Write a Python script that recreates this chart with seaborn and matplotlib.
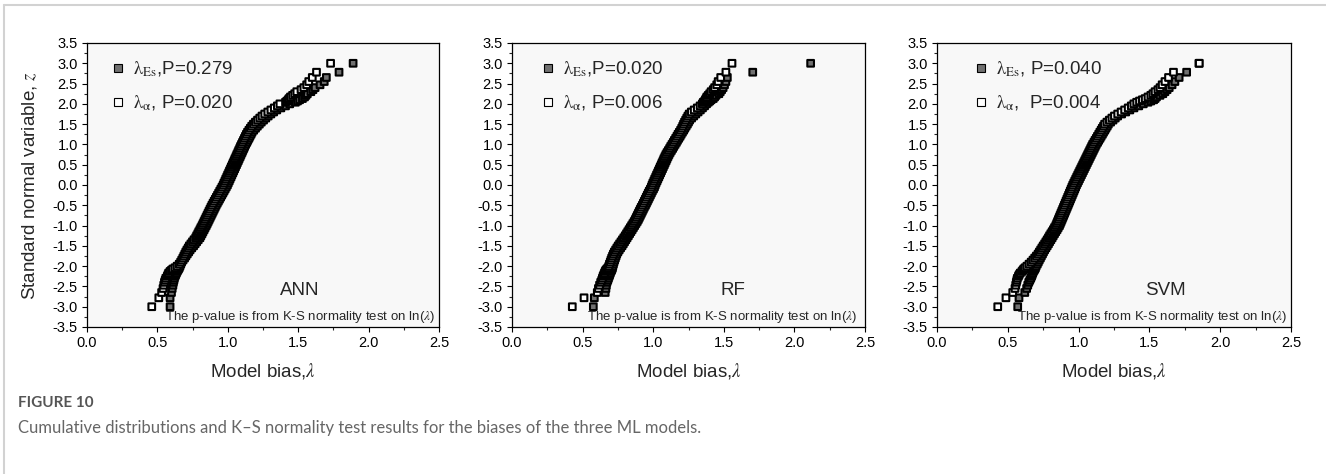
import numpy as np
import pandas as pd
import matplotlib
matplotlib.use("Agg")
import matplotlib.pyplot as plt
from matplotlib.lines import Line2D
from matplotlib.ticker import MultipleLocator, FormatStrFormatter
import seaborn as sns

# ---------------- data ----------------
# standard normal variable z (plotting positions), shared by all series
Z = [-3.00, -2.78, -2.65, -2.55, -2.47, -2.40, -2.35, -2.30, -2.25, -2.21, -2.17, -2.13, -2.10, -2.07, -2.04,
     -2.00, -1.95, -1.90, -1.85, -1.80, -1.75, -1.70, -1.65, -1.60, -1.55,
     -1.50, -1.45, -1.40, -1.35, -1.30, -1.25, -1.20, -1.15, -1.10, -1.05,
     -1.00, -0.95, -0.90, -0.85, -0.80, -0.75, -0.70, -0.65, -0.60, -0.55,
     -0.50, -0.45, -0.40, -0.35, -0.30, -0.25, -0.20, -0.15, -0.10, -0.05,
     0.00, 0.05, 0.10, 0.15, 0.20, 0.25, 0.30, 0.35, 0.40, 0.45,
     0.50, 0.55, 0.60, 0.65, 0.70, 0.75, 0.80, 0.85, 0.90, 0.95,
     1.00, 1.05, 1.10, 1.15, 1.20, 1.25, 1.30, 1.35, 1.40, 1.45,
     1.50, 1.55, 1.60, 1.65, 1.70, 1.75, 1.80, 1.85, 1.90, 1.95, 2.00,
     2.04, 2.07, 2.10, 2.13, 2.17, 2.21, 2.25, 2.30, 2.35, 2.40, 2.47, 2.55, 2.65, 2.78, 3.00]

ANN_ES = [0.59, 0.59, 0.60, 0.605, 0.61, 0.613, 0.617, 0.62, 0.625, 0.63, 0.635, 0.64, 0.645, 0.65, 0.655,
          0.660, 0.666, 0.672, 0.682, 0.693, 0.702, 0.712, 0.722, 0.732, 0.744,
          0.757, 0.768, 0.779, 0.790, 0.802, 0.809, 0.817, 0.824, 0.832, 0.839,
          0.847, 0.854, 0.861, 0.868, 0.875, 0.882, 0.889, 0.896, 0.903, 0.910,
          0.917, 0.925, 0.933, 0.941, 0.949, 0.957, 0.965, 0.973, 0.981, 0.989,
          0.997, 1.003, 1.010, 1.016, 1.023, 1.029, 1.036, 1.042, 1.049, 1.055,
          1.062, 1.068, 1.075, 1.081, 1.088, 1.094, 1.101, 1.107, 1.114, 1.120,
          1.127, 1.135, 1.142, 1.150, 1.157, 1.165, 1.172, 1.184, 1.197, 1.210,
          1.224, 1.238, 1.254, 1.270, 1.287, 1.306, 1.326, 1.348, 1.377, 1.410, 1.440,
          1.48, 1.495, 1.51, 1.53, 1.545, 1.555, 1.565, 1.59, 1.605, 1.62, 1.655, 1.685, 1.70, 1.79, 1.89]

ANN_ALPHA = [0.46, 0.51, 0.53, 0.54, 0.545, 0.55, 0.555, 0.56, 0.57, 0.575, 0.58, 0.59, 0.60, 0.61, 0.625,
             0.640, 0.655, 0.665, 0.673, 0.681, 0.688, 0.695, 0.702, 0.710, 0.719,
             0.727, 0.738, 0.749, 0.760, 0.772, 0.779, 0.787, 0.794, 0.802, 0.809,
             0.817, 0.824, 0.831, 0.838, 0.845, 0.852, 0.859, 0.866, 0.873, 0.880,
             0.887, 0.895, 0.903, 0.911, 0.919, 0.927, 0.935, 0.943, 0.951, 0.959,
             0.967, 0.973, 0.980, 0.986, 0.993, 0.999, 1.006, 1.012, 1.019, 1.025,
             1.032, 1.038, 1.045, 1.051, 1.058, 1.064, 1.071, 1.077, 1.084, 1.090,
             1.097, 1.104, 1.111, 1.118, 1.125, 1.132, 1.140, 1.150, 1.160, 1.170,
             1.182, 1.196, 1.211, 1.227, 1.243, 1.262, 1.284, 1.306, 1.330, 1.352, 1.370,
             1.41, 1.42, 1.43, 1.435, 1.445, 1.46, 1.475, 1.49, 1.52, 1.54, 1.56, 1.575, 1.60, 1.63, 1.73]

RF_ES = [0.576, 0.583, 0.66, 0.665, 0.668, 0.672, 0.678, 0.683, 0.688, 0.692, 0.696, 0.700, 0.705, 0.708, 0.711,
         0.714, 0.718, 0.722, 0.727, 0.732, 0.737, 0.742, 0.750, 0.759, 0.769,
         0.779, 0.788, 0.797, 0.806, 0.815, 0.824, 0.833, 0.842, 0.851, 0.860,
         0.869, 0.878, 0.887, 0.895, 0.902, 0.909, 0.916, 0.923, 0.930, 0.937,
         0.945, 0.952, 0.959, 0.966, 0.973, 0.980, 0.987, 0.994, 1.002, 1.009,
         1.014, 1.020, 1.027, 1.033, 1.040, 1.046, 1.053, 1.059, 1.066, 1.072,
         1.079, 1.085, 1.092, 1.098, 1.105, 1.112, 1.120, 1.129, 1.138, 1.146,
         1.155, 1.164, 1.172, 1.181, 1.190, 1.198, 1.207, 1.216, 1.224, 1.233,
         1.242, 1.250, 1.258, 1.272, 1.287, 1.302, 1.318, 1.334, 1.349, 1.364, 1.378,
         1.39, 1.40, 1.41, 1.425, 1.435, 1.445, 1.465, 1.475, 1.485, 1.495, 1.505, 1.515, 1.525, 1.705, 2.115]

RF_ALPHA = [0.427, 0.51, 0.604, 0.612, 0.62, 0.628, 0.635, 0.64, 0.645, 0.65, 0.655, 0.66, 0.665, 0.672, 0.68,
            0.686, 0.690, 0.696, 0.701, 0.706, 0.712, 0.718, 0.725, 0.734, 0.743,
            0.752, 0.762, 0.772, 0.782, 0.792, 0.802, 0.811, 0.820, 0.829, 0.838,
            0.847, 0.856, 0.865, 0.873, 0.880, 0.887, 0.894, 0.901, 0.908, 0.915,
            0.923, 0.930, 0.937, 0.944, 0.951, 0.958, 0.965, 0.972, 0.980, 0.987,
            0.992, 0.998, 1.005, 1.011, 1.018, 1.024, 1.031, 1.037, 1.044, 1.050,
            1.057, 1.063, 1.070, 1.076, 1.083, 1.090, 1.098, 1.107, 1.116, 1.124,
            1.133, 1.142, 1.150, 1.159, 1.168, 1.176, 1.185, 1.194, 1.202, 1.209,
            1.215, 1.222, 1.230, 1.238, 1.246, 1.255, 1.270, 1.290, 1.312, 1.332, 1.348,
            1.355, 1.365, 1.37, 1.375, 1.38, 1.39, 1.40, 1.41, 1.425, 1.435, 1.45, 1.46, 1.478, 1.515, 1.558]

SVM_ES = [0.57, 0.579, 0.62, 0.633, 0.641, 0.648, 0.655, 0.662, 0.668, 0.672, 0.676, 0.681, 0.686, 0.691, 0.695,
          0.700, 0.708, 0.715, 0.722, 0.730, 0.737, 0.745, 0.752, 0.760, 0.769,
          0.778, 0.787, 0.795, 0.804, 0.813, 0.821, 0.830, 0.839, 0.848, 0.856,
          0.865, 0.871, 0.877, 0.883, 0.889, 0.895, 0.901, 0.907, 0.913, 0.919,
          0.925, 0.931, 0.937, 0.943, 0.949, 0.955, 0.961, 0.967, 0.973, 0.979,
          0.985, 0.992, 0.999, 1.006, 1.013, 1.020, 1.027, 1.034, 1.041, 1.048,
          1.055, 1.062, 1.069, 1.076, 1.083, 1.090, 1.097, 1.104, 1.111, 1.118,
          1.125, 1.134, 1.142, 1.151, 1.159, 1.168, 1.176, 1.185, 1.193, 1.202,
          1.210, 1.226, 1.243, 1.259, 1.276, 1.304, 1.333, 1.362, 1.391, 1.425, 1.457,
          1.49, 1.51, 1.53, 1.54, 1.55, 1.575, 1.595, 1.61, 1.625, 1.64, 1.66, 1.68, 1.71, 1.763, 1.85]

SVM_ALPHA = [0.429, 0.487, 0.535, 0.551, 0.556, 0.56, 0.564, 0.567, 0.575, 0.58, 0.588, 0.60, 0.607, 0.613, 0.622,
             0.635, 0.650, 0.665, 0.678, 0.690, 0.702, 0.714, 0.723, 0.732, 0.741,
             0.750, 0.760, 0.769, 0.778, 0.787, 0.795, 0.804, 0.813, 0.822, 0.830,
             0.839, 0.845, 0.851, 0.857, 0.863, 0.869, 0.875, 0.881, 0.887, 0.893,
             0.899, 0.905, 0.911, 0.917, 0.923, 0.929, 0.935, 0.941, 0.947, 0.953,
             0.959, 0.966, 0.973, 0.980, 0.987, 0.994, 1.001, 1.008, 1.015, 1.022,
             1.029, 1.036, 1.043, 1.050, 1.057, 1.064, 1.071, 1.078, 1.085, 1.092,
             1.099, 1.108, 1.116, 1.125, 1.133, 1.142, 1.150, 1.159, 1.167, 1.176,
             1.184, 1.200, 1.217, 1.235, 1.253, 1.276, 1.300, 1.325, 1.350, 1.372, 1.390,
             1.41, 1.43, 1.45, 1.47, 1.49, 1.51, 1.525, 1.54, 1.56, 1.575, 1.59, 1.61, 1.635, 1.67, 1.852]

MODELS = ["ANN", "RF", "SVM"]
ES_SERIES = [ANN_ES, RF_ES, SVM_ES]
ALPHA_SERIES = [ANN_ALPHA, RF_ALPHA, SVM_ALPHA]
ES_LABELS = [r"$\mathrm{\lambda_{Es}}$,P=0.279", r"$\mathrm{\lambda_{Es}}$,P=0.020", r"$\mathrm{\lambda_{Es}}$, P=0.040"]
ALPHA_LABELS = [r"$\mathrm{\lambda_{\alpha}}$, P=0.020", r"$\mathrm{\lambda_{\alpha}}$, P=0.006", r"$\mathrm{\lambda_{\alpha}}$,  P=0.004"]
NOTE = r"The p-value is from K-S normality test on ln($\lambda$)"

# ---------------- style ----------------
sns.set_style("ticks")
plt.rcParams['font.family'] = ['Liberation Sans', 'DejaVu Sans']
plt.rcParams['mathtext.fontset'] = 'stix'
plt.rcParams['axes.unicode_minus'] = False

W, H = 1326, 474
fig = plt.figure(figsize=(W / 100, H / 100), dpi=100)
fig.patch.set_facecolor('white')

lefts = [87, 512, 937]
rights = [439, 865, 1291]
top_px, bot_px = 43, 327
leg_x = [0.072, 0.086, 0.108]
name_x = [0.605, 0.626, 0.644]
note_x = [0.989, 0.977, 0.990]

FILL = '#707070'
EDGE = '#000000'

for i in range(3):
    l, r = lefts[i], rights[i]
    ax = fig.add_axes([l / W, 1 - bot_px / H, (r - l) / W, (bot_px - top_px) / H])
    ax.set_facecolor('#f8f8f8')
    df = pd.DataFrame({
        'lam': ES_SERIES[i] + ALPHA_SERIES[i],
        'z': Z + Z,
        'series': ['Es'] * len(Z) + ['alpha'] * len(Z),
    })
    sns.scatterplot(data=df, x='lam', y='z', hue='series',
                    palette={'Es': FILL, 'alpha': '#ffffff'},
                    marker='s', s=23, edgecolor=EDGE, linewidth=1.5,
                    legend=False, ax=ax, zorder=3, snap=False)
    ax.set_xlim(0, 2.5)
    ax.set_ylim(-3.5, 3.5)
    ax.xaxis.set_major_locator(MultipleLocator(0.5))
    ax.xaxis.set_minor_locator(MultipleLocator(0.25))
    ax.yaxis.set_major_locator(MultipleLocator(0.5))
    ax.yaxis.set_minor_locator(MultipleLocator(0.25))
    ax.xaxis.set_major_formatter(FormatStrFormatter('%.1f'))
    ax.yaxis.set_major_formatter(FormatStrFormatter('%.1f'))
    ax.tick_params(which='major', direction='out', length=3.5, width=0.8, labelsize=10.5,
                   colors='black', pad=3, top=False, right=False)
    ax.tick_params(which='minor', direction='out', length=2, width=0.8, top=False, right=False)
    for sp in ax.spines.values():
        sp.set_visible(True)
        sp.set_color('black')
        sp.set_linewidth(0.9)
    ax.set_xlabel(r"Model bias,$\lambda$", fontsize=13.5, labelpad=8)
    if i == 0:
        ax.set_ylabel(r"Standard normal variable, $z$", fontsize=13.5, labelpad=10)
    else:
        ax.set_ylabel("")

    handles = [Line2D([], [], ls='', marker='s', markersize=5.2, markerfacecolor=FILL,
                      markeredgecolor=EDGE, markeredgewidth=0.8),
               Line2D([], [], ls='', marker='s', markersize=5.2, markerfacecolor='white',
                      markeredgecolor=EDGE, markeredgewidth=0.8)]
    ax.legend(handles, [ES_LABELS[i], ALPHA_LABELS[i]], loc='upper left',
              bbox_to_anchor=(leg_x[i], 0.94), frameon=False, fontsize=13.5,
              handlelength=0.6, handletextpad=0.5, labelspacing=0.75,
              borderaxespad=0, borderpad=0)
    ax.text(name_x[i], 0.13, MODELS[i], transform=ax.transAxes, ha='center', va='center',
            fontsize=13.5)
    ax.text(note_x[i], 0.034, NOTE, transform=ax.transAxes, ha='right', va='center',
            fontsize=9.5)

# card border
fig.add_artist(Line2D([4 / W, 1], [1 - 5 / H, 1 - 5 / H], transform=fig.transFigure,
                      color='#d2d2d2', lw=1.5))
fig.add_artist(Line2D([4 / W, 4 / W], [0, 1 - 5 / H], transform=fig.transFigure,
                      color='#d2d2d2', lw=1.5))

fig.text(18 / W, 1 - 403 / H, "FIGURE 10", fontsize=11, color='#555555',
         fontweight='bold', va='center', ha='left', family=['Lato', 'DejaVu Sans'])
fig.text(18 / W, 1 - 428 / H,
         "Cumulative distributions and K\u2013S normality test results for the biases of the three ML models.",
         fontsize=12, color='#666666', va='center', ha='left', family=['Lato', 'DejaVu Sans'])

fig.savefig("out.png", dpi=100)
